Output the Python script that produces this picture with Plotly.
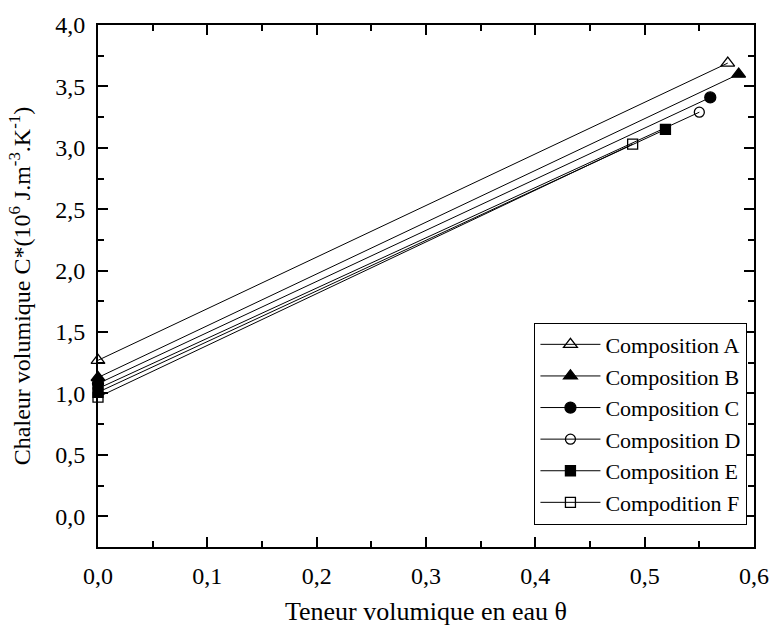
import plotly.graph_objects as go

# Water content (theta) and volumetric heat capacity C* (10^6 J.m-3.K-1)
names = ["Composition A", "Composition B", "Composition C",
         "Composition D", "Composition E", "Compodition F"]
theta = [
    [0.0, 0.576],
    [0.0, 0.586],
    [0.0, 0.560],
    [0.0, 0.550],
    [0.0, 0.519],
    [0.0, 0.489],
]
cstar = [
    [1.27, 3.69],
    [1.13, 3.60],
    [1.08, 3.41],
    [1.04, 3.29],
    [1.01, 3.15],
    [0.97, 3.03],
]
symbols = ["triangle-up-open", "triangle-up", "circle",
           "circle-open", "square", "square-open"]
sizes = [12, 12, 11, 10, 10, 10]

x_ticks = [0.0, 0.1, 0.2, 0.3, 0.4, 0.5, 0.6]
y_ticks = [0.0, 0.5, 1.0, 1.5, 2.0, 2.5, 3.0, 3.5, 4.0]

FONT = "Liberation Serif"

fig = go.Figure()
for i, name in enumerate(names):
    fig.add_trace(go.Scatter(
        x=theta[i], y=cstar[i], name=name, mode="lines+markers",
        legendgroup=f"g{i}",
        line=dict(color="black", width=1),
        marker=dict(symbol=symbols[i], size=sizes[i], color="black",
                    line=dict(color="black", width=1.3)),
        cliponaxis=False,
    ))

axis_common = dict(
    showline=True, linecolor="black", linewidth=2, mirror="ticks",
    ticks="inside", ticklen=10, tickwidth=2, tickcolor="black",
    showgrid=False, zeroline=False, ticklabelstandoff=6,
    tickfont=dict(family=FONT, size=24, color="black"),
)

fig.update_xaxes(
    range=[0, 0.6], tickvals=x_ticks, tickformat=".1f",
    minor=dict(dtick=0.05, ticks="inside", ticklen=6, tickwidth=1.5,
               tickcolor="black", showgrid=False),
    title=dict(text="Teneur volumique en eau θ", standoff=14,
               font=dict(family=FONT, size=26, color="black")),
    **axis_common,
)
fig.update_yaxes(
    range=[-0.25, 4.0], tickvals=y_ticks, tickformat=".1f",
    minor=dict(dtick=0.25, ticks="inside", ticklen=6, tickwidth=1.5,
               tickcolor="black", showgrid=False),
    title=dict(text="Chaleur volumique C*(10<sup>6</sup> J.m<sup>-3</sup>.K<sup>-1</sup>)",
               standoff=18, font=dict(family=FONT, size=24, color="black")),
    **axis_common,
)

fig.update_layout(
    width=781, height=633,
    margin=dict(l=98, r=21, t=22, b=85),
    paper_bgcolor="white", plot_bgcolor="white",
    separators=", ",
    font=dict(family=FONT, color="black"),
    legend=dict(
        x=0.99, y=0.43, xanchor="right", yanchor="top",
        bgcolor="white", bordercolor="black", borderwidth=1,
        font=dict(family=FONT, size=22, color="black"),
        tracegroupgap=0, itemwidth=60,
    ),
)

fig.write_html("out.html")
